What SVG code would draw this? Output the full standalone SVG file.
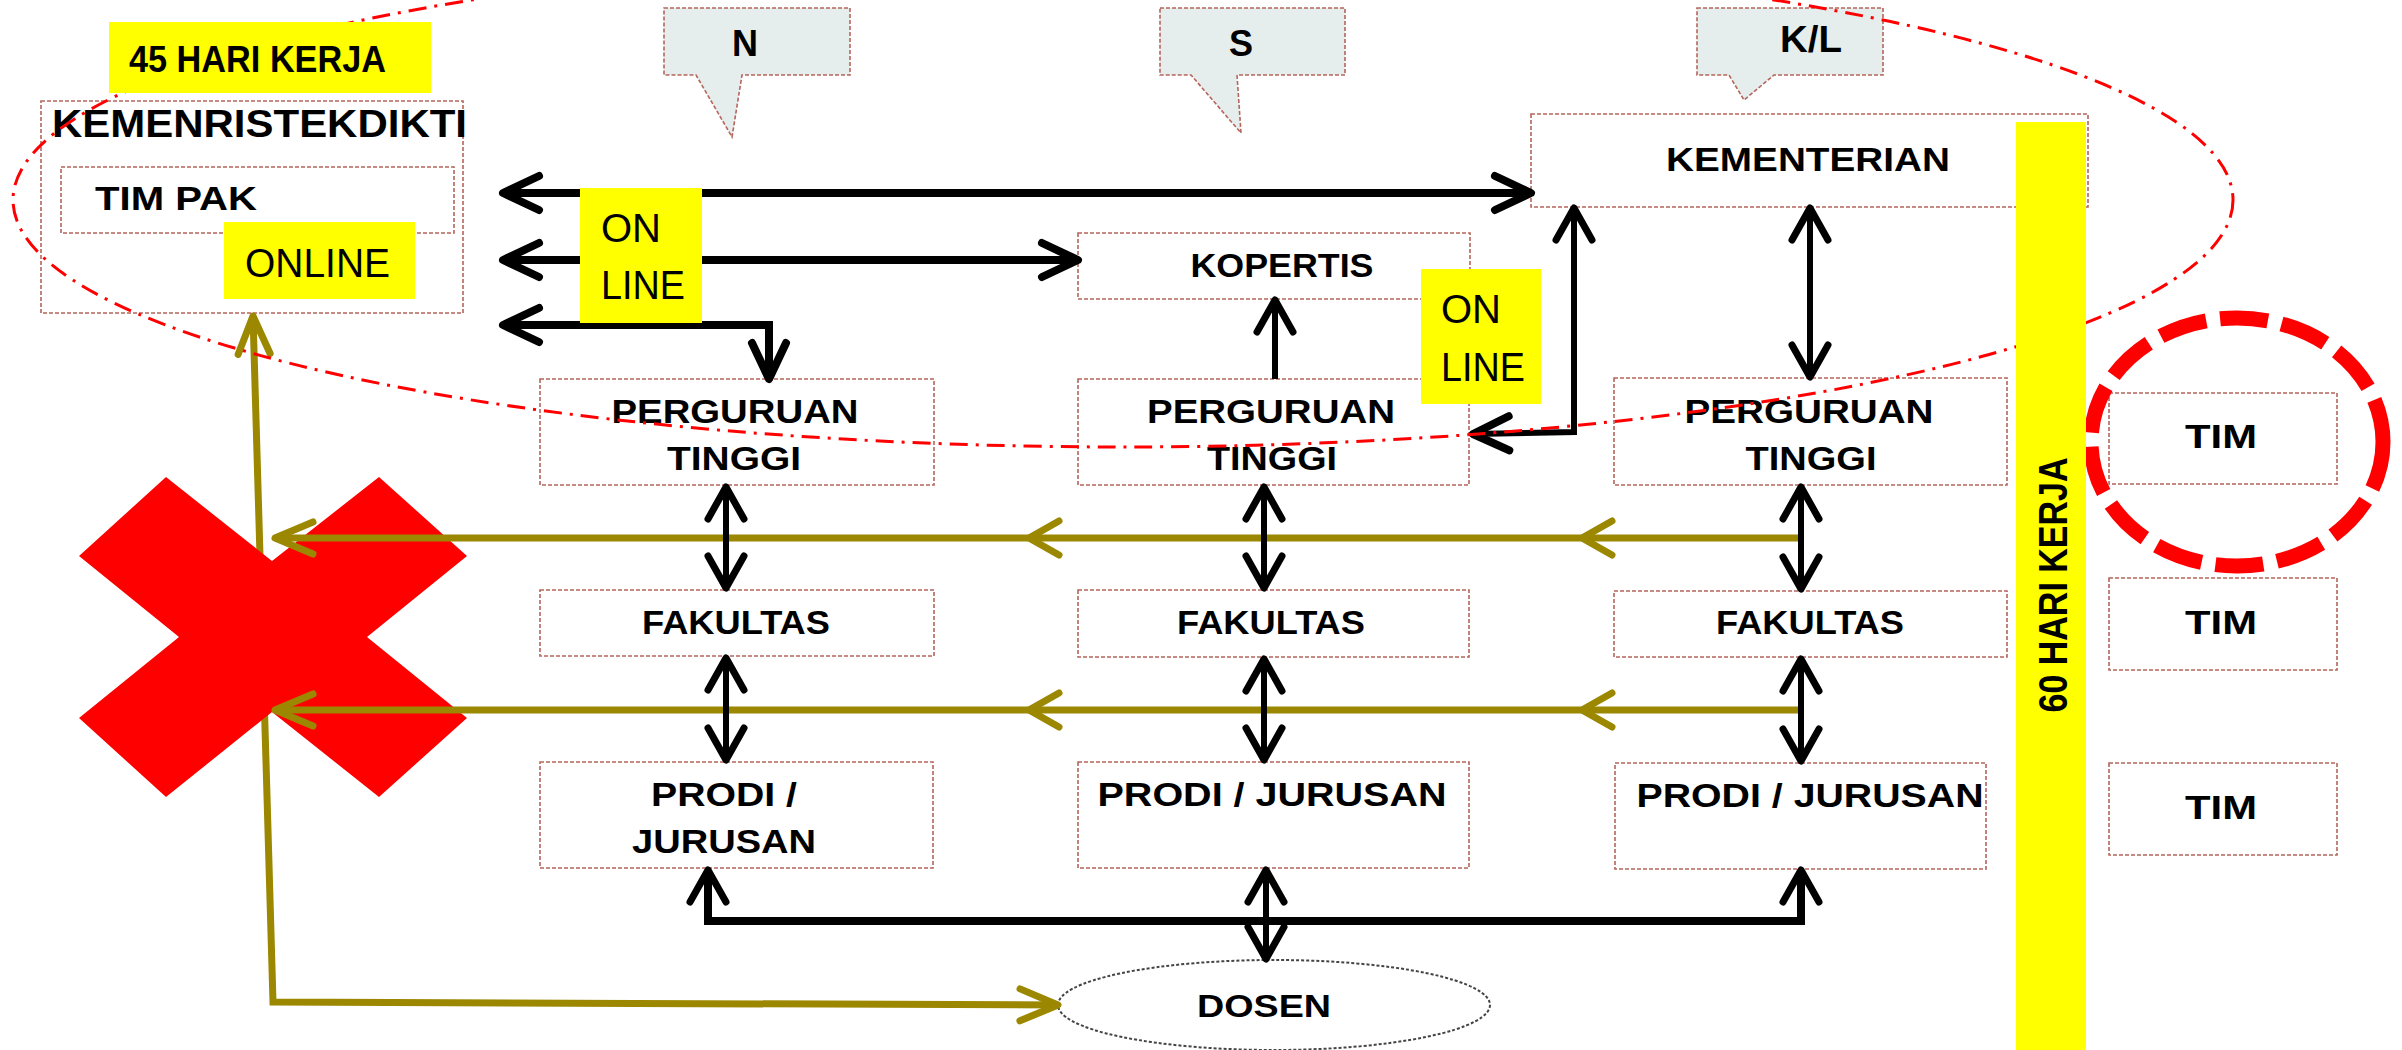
<svg xmlns="http://www.w3.org/2000/svg" width="2402" height="1050" viewBox="0 0 2402 1050">
<style>
.box{fill:#fff;stroke:#b5655b;stroke-width:1.6;stroke-dasharray:4 2}
.call{fill:#e6eded;stroke:#b5655b;stroke-width:1.6;stroke-dasharray:4 2}
.t{font-family:"Liberation Sans",Arial,sans-serif;font-weight:bold;fill:#000;text-anchor:middle}
.tl{font-family:"Liberation Sans",Arial,sans-serif;font-weight:bold;fill:#000}
.tr{font-family:"Liberation Sans",Arial,sans-serif;font-weight:normal;fill:#000}
.yel{fill:#ffff00}
.blk{fill:none;stroke:#000;stroke-width:8;stroke-linejoin:miter}
.blkv{fill:none;stroke:#000;stroke-width:6}
.brn{fill:none;stroke:#9c8700;stroke-width:7}
</style>
<defs>
<marker id="ah" viewBox="-50 -30 60 60" markerWidth="60" markerHeight="60" refX="0" refY="0" orient="auto-start-reverse" markerUnits="userSpaceOnUse">
<path d="M-36,-17 L0,0 L-36,17" fill="none" stroke="#000" stroke-width="8" stroke-linecap="round" stroke-linejoin="round"/>
</marker>
<marker id="av" viewBox="-50 -30 60 60" markerWidth="60" markerHeight="60" refX="0" refY="0" orient="auto-start-reverse" markerUnits="userSpaceOnUse">
<path d="M-32,-18 L0,0 L-32,18" fill="none" stroke="#000" stroke-width="7" stroke-linecap="round" stroke-linejoin="round"/>
</marker>
<marker id="ab" viewBox="-50 -30 60 60" markerWidth="60" markerHeight="60" refX="0" refY="0" orient="auto-start-reverse" markerUnits="userSpaceOnUse">
<path d="M-38,-16 L0,0 L-38,16" fill="none" stroke="#9c8700" stroke-width="7" stroke-linecap="round" stroke-linejoin="round"/>
</marker>
<marker id="abm" viewBox="-50 -30 60 60" markerWidth="60" markerHeight="60" refX="0" refY="0" orient="auto" markerUnits="userSpaceOnUse">
<path d="M-30,-17 L0,0 L-30,17" fill="none" stroke="#9c8700" stroke-width="7" stroke-linecap="round" stroke-linejoin="round"/>
</marker>
</defs>
<rect width="2402" height="1050" fill="#fff"/>

<!-- callouts -->
<g id="callout-n"><path class="call" d="M664,8 H850 V75 H742 L732,137 L696,75 H664 Z"/><text class="t" x="745" y="56" font-size="36">N</text></g>
<g id="callout-s"><path class="call" d="M1160,8 H1345 V75 H1237 L1241,133 L1191,75 H1160 Z"/><text class="t" x="1241" y="56" font-size="36">S</text></g>
<g id="callout-kl"><path class="call" d="M1697,8 H1883 V75 H1774 L1744,100 L1729,75 H1697 Z"/><text class="t" x="1811" y="52" font-size="36" textLength="62" lengthAdjust="spacingAndGlyphs">K/L</text></g>

<!-- nodes -->
<g id="kemenristekdikti">
<rect class="box" x="41" y="101" width="422" height="212"/>
<text class="tl" x="52" y="137" font-size="39" textLength="415" lengthAdjust="spacingAndGlyphs">KEMENRISTEKDIKTI</text>
</g>
<g id="tim-pak">
<rect class="box" x="61" y="167" width="393" height="66"/>
<text class="tl" x="95" y="210" font-size="33" textLength="162" lengthAdjust="spacingAndGlyphs">TIM PAK</text>
</g>
<g id="kementerian">
<rect class="box" x="1531" y="114" width="557" height="93"/>
<text class="t" x="1808" y="171" font-size="34" textLength="284" lengthAdjust="spacingAndGlyphs">KEMENTERIAN</text>
</g>
<g id="kopertis">
<rect class="box" x="1078" y="233" width="392" height="66"/>
<text class="t" x="1282" y="277" font-size="33" textLength="183" lengthAdjust="spacingAndGlyphs">KOPERTIS</text>
</g>
<g id="pt-n">
<rect class="box" x="540" y="379" width="394" height="106"/>
<text class="t" x="735" y="423" font-size="34" textLength="247" lengthAdjust="spacingAndGlyphs">PERGURUAN</text>
<text class="t" x="734" y="470" font-size="34" textLength="134" lengthAdjust="spacingAndGlyphs">TINGGI</text>
</g>
<g id="pt-s">
<rect class="box" x="1078" y="379" width="391" height="106"/>
<text class="t" x="1271" y="423" font-size="34" textLength="248" lengthAdjust="spacingAndGlyphs">PERGURUAN</text>
<text class="t" x="1272" y="470" font-size="34" textLength="130" lengthAdjust="spacingAndGlyphs">TINGGI</text>
</g>
<g id="pt-kl">
<rect class="box" x="1614" y="378" width="393" height="107"/>
<text class="t" x="1809" y="423" font-size="34" textLength="249" lengthAdjust="spacingAndGlyphs">PERGURUAN</text>
<text class="t" x="1811" y="470" font-size="34" textLength="131" lengthAdjust="spacingAndGlyphs">TINGGI</text>
</g>
<g id="fak-n"><rect class="box" x="540" y="590" width="394" height="66"/><text class="t" x="736" y="634" font-size="34" textLength="188" lengthAdjust="spacingAndGlyphs">FAKULTAS</text></g>
<g id="fak-s"><rect class="box" x="1078" y="590" width="391" height="67"/><text class="t" x="1271" y="634" font-size="34" textLength="188" lengthAdjust="spacingAndGlyphs">FAKULTAS</text></g>
<g id="fak-kl"><rect class="box" x="1614" y="591" width="393" height="66"/><text class="t" x="1810" y="634" font-size="34" textLength="188" lengthAdjust="spacingAndGlyphs">FAKULTAS</text></g>
<g id="prodi-n"><rect class="box" x="540" y="762" width="393" height="106"/>
<text class="t" x="724" y="806" font-size="34" textLength="146" lengthAdjust="spacingAndGlyphs">PRODI /</text>
<text class="t" x="724" y="853" font-size="34" textLength="184" lengthAdjust="spacingAndGlyphs">JURUSAN</text></g>
<g id="prodi-s"><rect class="box" x="1078" y="762" width="391" height="106"/><text class="t" x="1272" y="806" font-size="34" textLength="349" lengthAdjust="spacingAndGlyphs">PRODI / JURUSAN</text></g>
<g id="prodi-kl"><rect class="box" x="1615" y="763" width="371" height="106"/><text class="t" x="1810" y="807" font-size="34" textLength="347" lengthAdjust="spacingAndGlyphs">PRODI / JURUSAN</text></g>
<g id="tim-1"><rect class="box" x="2109" y="393" width="228" height="91"/><text class="t" x="2221" y="448" font-size="33" textLength="72" lengthAdjust="spacingAndGlyphs">TIM</text></g>
<g id="tim-2"><rect class="box" x="2109" y="578" width="228" height="92"/><text class="t" x="2221" y="634" font-size="33" textLength="72" lengthAdjust="spacingAndGlyphs">TIM</text></g>
<g id="tim-3"><rect class="box" x="2109" y="763" width="228" height="92"/><text class="t" x="2221" y="819" font-size="33" textLength="72" lengthAdjust="spacingAndGlyphs">TIM</text></g>
<g id="dosen"><ellipse cx="1274" cy="1005" rx="216" ry="45" fill="#fff" stroke="#444" stroke-width="2" stroke-dasharray="3 2"/>
<text class="t" x="1264" y="1017" font-size="32" textLength="134" lengthAdjust="spacingAndGlyphs">DOSEN</text></g>

<!-- connectors -->
<g id="connectors">
<path class="brn" d="M253,316 L273,1002 L1058,1005" marker-start="url(#ab)" marker-end="url(#ab)"/>
<polygon id="red-x" points="79,556 166,477 272,561 379,477 467,556 367,637 467,718 379,797 272,712 166,797 79,718 179,637" fill="#ff0000"/>
<path class="brn" d="M1801,538 L1582,538 L1029,538 L275,538" marker-mid="url(#abm)" marker-end="url(#ab)"/>
<path class="brn" d="M1801,710 L1582,710 L1029,710 L275,710" marker-mid="url(#abm)" marker-end="url(#ab)"/>

<path class="blk" d="M503,193 L1531,193" marker-start="url(#ah)" marker-end="url(#ah)"/>
<path class="blk" d="M503,260 L1078,260" marker-start="url(#ah)" marker-end="url(#ah)"/>
<path class="blk" d="M769,379 L769,325 L503,325" marker-start="url(#ah)" marker-end="url(#ah)"/>
<path class="blkv" d="M1275,379 L1275,300" marker-end="url(#av)"/>
<path class="blkv" d="M1574,208 L1574,432 L1473,434" stroke-width="7" marker-start="url(#av)" marker-end="url(#ah)"/>
<path class="blkv" d="M1810,208 L1810,377" marker-start="url(#av)" marker-end="url(#av)"/>

<path class="blkv" d="M726,487 L726,588" marker-start="url(#av)" marker-end="url(#av)"/>
<path class="blkv" d="M726,658 L726,760" marker-start="url(#av)" marker-end="url(#av)"/>
<path class="blkv" d="M1264,487 L1264,588" marker-start="url(#av)" marker-end="url(#av)"/>
<path class="blkv" d="M1264,659 L1264,760" marker-start="url(#av)" marker-end="url(#av)"/>
<path class="blkv" d="M1801,487 L1801,589" marker-start="url(#av)" marker-end="url(#av)"/>
<path class="blkv" d="M1801,659 L1801,761" marker-start="url(#av)" marker-end="url(#av)"/>

<path class="blk" d="M708,870 L708,921 L1801,921 L1801,870" marker-start="url(#av)" marker-end="url(#av)"/>
<path class="blkv" d="M1266,870 L1266,959" marker-start="url(#av)" marker-end="url(#av)"/>
</g>

<!-- red dash-dot scope ellipse -->
<ellipse cx="1123" cy="200" rx="1110" ry="247" fill="none" stroke="#ff0000" stroke-width="3" stroke-dasharray="18 8 3 8"/>

<!-- highlight circle -->
<ellipse cx="2237" cy="442" rx="146" ry="124" fill="none" stroke="#ff0000" stroke-width="15" stroke-dasharray="48 14"/>

<!-- yellow labels -->
<g id="label-45">
<rect class="yel" x="109" y="22" width="322" height="71"/>
<text class="tl" x="129" y="72" font-size="37" textLength="257" lengthAdjust="spacingAndGlyphs">45 HARI KERJA</text>
</g>
<g id="label-online">
<rect class="yel" x="224" y="222" width="191" height="77"/>
<text class="tr" x="245" y="277" font-size="40" textLength="145" lengthAdjust="spacingAndGlyphs">ONLINE</text>
</g>
<g id="label-online-1">
<rect class="yel" x="580" y="188" width="122" height="135"/>
<text class="tr" x="601" y="242" font-size="40">ON</text>
<text class="tr" x="601" y="299" font-size="40" textLength="84" lengthAdjust="spacingAndGlyphs">LINE</text>
</g>
<g id="label-online-2">
<rect class="yel" x="1421" y="269" width="120" height="135"/>
<text class="tr" x="1441" y="323" font-size="40">ON</text>
<text class="tr" x="1441" y="381" font-size="40" textLength="84" lengthAdjust="spacingAndGlyphs">LINE</text>
</g>
<g id="label-60">
<rect class="yel" x="2016" y="122" width="70" height="928"/>
<text class="t" transform="translate(2067,585) rotate(-90)" x="0" y="0" font-size="40" textLength="255" lengthAdjust="spacingAndGlyphs">60 HARI KERJA</text>
</g>
</svg>
